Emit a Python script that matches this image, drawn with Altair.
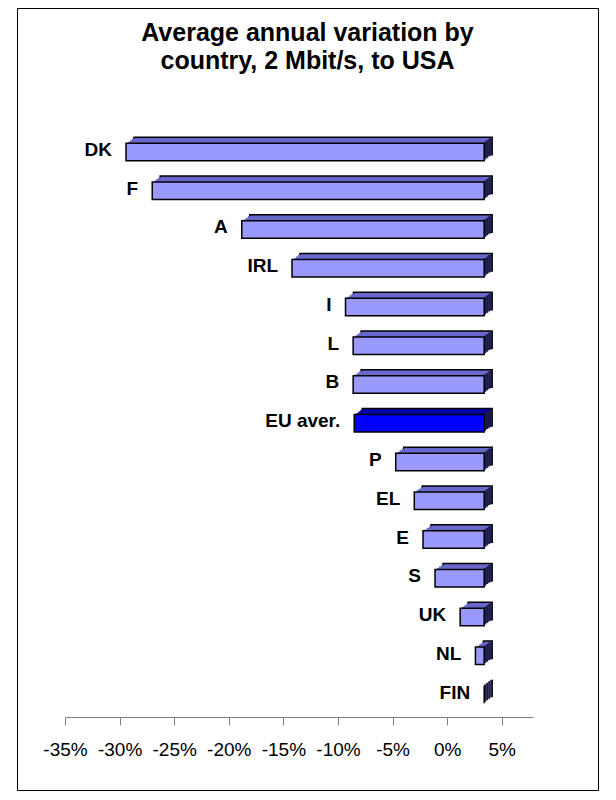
import altair as alt
import pandas as pd

# ---- data ----
countries = ["DK", "F", "A", "IRL", "I", "L", "B", "EU aver.", "P", "EL", "E", "S", "UK", "NL", "FIN"]
variation = [-32.8, -30.4, -22.2, -17.6, -12.7, -12.0, -12.0, -11.9, -8.1, -6.4, -5.6, -4.5, -2.2, -0.8, 0.0]
tick_values = [-35, -30, -25, -20, -15, -10, -5, 0, 5]
title_lines = ["Average annual variation by", "country, 2 Mbit/s,  to USA"]
highlight = "EU aver."

df = pd.DataFrame({"country": countries, "value": variation})
df["base"] = 0.0

# ---- style ----
FONT = "Liberation Sans"
DEPTH_X = 37          # 3-D shift of the bar plane relative to the floor axis
STEPS = 4             # staircase steps used to draw the oblique faces
STEP_DX, STEP_DY = 2, 1.5

xscale = alt.Scale(domain=[-35, 7.86], range=[48, 516], nice=False, zero=False)
yscale = alt.Scale(domain=countries, range=[121.5, 709], paddingInner=0.55, paddingOuter=0.355)

x_enc = alt.X(
    "value:Q", scale=xscale, title=None,
    axis=alt.Axis(values=tick_values, labelExpr="datum.value + '%'", grid=False,
                  offset=-73, tickSize=8, labelPadding=15, labelFont=FONT,
                  labelFontSize=19, labelColor="black", domainColor="#7f7f7f",
                  tickColor="#7f7f7f", domainWidth=1, tickWidth=1, labelFlush=False),
)
y_enc = alt.Y("country:N", scale=yscale, axis=None, sort=countries)
is_avg = alt.datum.country == highlight
top_color = alt.condition(is_avg, alt.value("#0000a8"), alt.value("#6868cc"))

base = alt.Chart(df)
layers = []

# top face (staircase from the back towards the front)
for k in range(STEPS, 0, -1):
    props = dict(xOffset=DEPTH_X + STEP_DX * k, x2Offset=DEPTH_X + STEP_DX * k,
                 yOffset=-STEP_DY * k, y2Offset=-STEP_DY * k)
    if k == STEPS:
        props.update(stroke="black", strokeWidth=1.5)
    layers.append(
        base.mark_bar(**props).encode(x=x_enc, x2="base:Q", y=y_enc, color=top_color)
    )

# right side face
for k in range(1, STEPS + 1):
    layers.append(
        base.mark_bar(
            xOffset=DEPTH_X + STEP_DX * (k - 1), x2Offset=DEPTH_X + STEP_DX * k,
            yOffset=-STEP_DY * k, y2Offset=-STEP_DY * k, color="#1a1a44",
        ).encode(x=alt.X("base:Q", scale=xscale, title=None), x2="base:Q", y=y_enc)
    )

# front face
layers.append(
    base.mark_bar(xOffset=DEPTH_X, x2Offset=DEPTH_X, stroke="black", strokeWidth=1.5).encode(
        x=x_enc, x2="base:Q", y=y_enc,
        color=alt.condition(is_avg, alt.value("#0000ff"), alt.value("#9999ff")),
    )
)

# category labels next to each bar
layers.append(
    base.mark_text(font=FONT, fontWeight="bold", fontSize=19, align="right",
                   baseline="middle", dx=DEPTH_X - 14, dy=-2, color="black").encode(
        x=x_enc, y=y_enc, text="country:N"
    )
)

chart = alt.layer(*layers).properties(
    width=581, height=782,
    autosize=alt.AutoSizeParams(type="none"),
    padding={"left": 9, "top": 0, "right": 2, "bottom": 2},
    background="white",
    title=alt.TitleParams(text=title_lines, font=FONT, fontSize=25, fontWeight="bold",
                          anchor="middle", baseline="top", offset=-66, lineHeight=28,
                          color="black"),
).configure_view(stroke="black", strokeWidth=1)

chart.save("out.html", embed_options={"renderer": "svg", "actions": False})
